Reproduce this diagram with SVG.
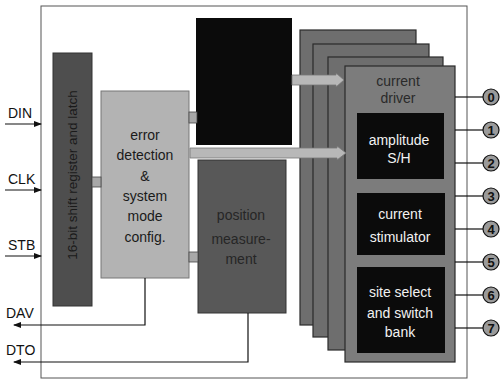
<svg xmlns="http://www.w3.org/2000/svg" width="503" height="381" viewBox="0 0 503 381">
<style>
text{font-family:"Liberation Sans",Arial,sans-serif;}
.lbl{font-size:14px;fill:#111;}
.dk{font-size:14px;fill:#1a1a1a;text-anchor:middle;}
.wt{font-size:14px;fill:#f2f2f2;text-anchor:middle;}
.card{fill:#6e6e6e;stroke:#2a2a2a;stroke-width:1.2;}
.blk{fill:#0b0b0b;}
.wire{stroke:#111;stroke-width:1.2;fill:none;}
.stub{fill:#a8a8a8;stroke:#444;stroke-width:0.8;}
.bus{fill:#b8b8b8;stroke:#777;stroke-width:0.8;}
.pin{fill:#9a9a9a;stroke:#111;stroke-width:1.2;}
.num{font-size:13px;font-weight:bold;fill:#111;text-anchor:middle;}
</style>
<defs>
<marker id="ah" markerWidth="8" markerHeight="6" refX="7" refY="3" orient="auto" markerUnits="userSpaceOnUse">
<path d="M0,0 L8,3 L0,6 Z" fill="#111"/>
</marker>
</defs>
<rect x="41" y="6" width="426" height="372" fill="none" stroke="#555" stroke-width="1"/>

<g id="labels">
<text class="lbl" x="8" y="118">DIN</text>
<text class="lbl" x="8" y="184">CLK</text>
<text class="lbl" x="8" y="250">STB</text>
<text class="lbl" x="6" y="318">DAV</text>
<text class="lbl" x="6" y="355">DTO</text>
</g>

<g id="shift-register">
<rect x="53" y="53" width="39" height="253" fill="#4e4e4e" stroke="#333" stroke-width="1"/>
<text class="dk" transform="translate(77,175) rotate(-90)" style="font-size:13.5px;fill:#1a1a1a">16-bit shift register and latch</text>
</g>

<g id="error-detection">
<rect x="101" y="91" width="88" height="187" fill="#b3b3b3" stroke="#777" stroke-width="1"/>
<text class="dk" x="145" y="140">error</text>
<text class="dk" x="145" y="160">detection</text>
<text class="dk" x="145" y="181">&amp;</text>
<text class="dk" x="145" y="201">system</text>
<text class="dk" x="145" y="221">mode</text>
<text class="dk" x="145" y="242">config.</text>
</g>

<g id="top-black">
<rect class="blk" x="196" y="18" width="96" height="127"/>
</g>

<g id="position-measurement">
<rect x="198" y="160" width="88" height="153" fill="#585858" stroke="#333" stroke-width="1"/>
<text class="dk" x="241" y="220" style="fill:#262626">position</text>
<text class="dk" x="241" y="244" style="fill:#262626">measure-</text>
<text class="dk" x="241" y="264" style="fill:#262626">ment</text>
</g>

<g id="channel-stack">
<rect class="card" x="300" y="30" width="116" height="295"/>
<rect class="card" x="313" y="44" width="116" height="293"/>
<rect class="card" x="328" y="57" width="115" height="293"/>
<rect class="card" x="345" y="66" width="110" height="296" style="fill:#7c7c7c"/>
<text class="dk" x="398" y="86" style="fill:#2a2a2a">current</text>
<text class="dk" x="398" y="103" style="fill:#2a2a2a">driver</text>
</g>

<g id="amplitude-sh">
<rect class="blk" x="357" y="113" width="87" height="66"/>
<text class="wt" x="399" y="145">amplitude</text>
<text class="wt" x="399" y="163">S/H</text>
</g>

<g id="current-stimulator">
<rect class="blk" x="357" y="193" width="88" height="62"/>
<text class="wt" x="400" y="219">current</text>
<text class="wt" x="400" y="242">stimulator</text>
</g>

<g id="site-select">
<rect class="blk" x="357" y="267" width="88" height="86"/>
<text class="wt" x="400" y="297">site select</text>
<text class="wt" x="400" y="318">and switch</text>
<text class="wt" x="400" y="337">bank</text>
</g>

<g id="connectors">
<line class="wire" x1="5" y1="124" x2="41" y2="124" marker-end="url(#ah)"/>
<line class="wire" x1="5" y1="190" x2="41" y2="190" marker-end="url(#ah)"/>
<line class="wire" x1="5" y1="256" x2="41" y2="256" marker-end="url(#ah)"/>
<polyline class="wire" points="145,278 145,325 14,325" marker-end="url(#ah)"/>
<polyline class="wire" points="248,313 248,362 14,362" marker-end="url(#ah)"/>
<rect class="stub" x="92" y="177" width="9" height="10"/>
<rect class="stub" x="189" y="112" width="8" height="11"/>
<rect class="stub" x="189" y="252" width="9" height="10"/>
<path class="bus" d="M292,75 L336,75 L336,73 L344,80 L336,87 L336,85 L292,85 Z"/>
<path class="bus" d="M190,148 L337,148 L337,146 L346,153 L337,160 L337,158 L190,158 Z"/>
<line class="wire" x1="455" y1="97" x2="483" y2="97"/>
<line class="wire" x1="455" y1="130" x2="483" y2="130"/>
<line class="wire" x1="455" y1="163" x2="483" y2="163"/>
<line class="wire" x1="455" y1="196" x2="483" y2="196"/>
<line class="wire" x1="455" y1="229" x2="483" y2="229"/>
<line class="wire" x1="455" y1="262" x2="483" y2="262"/>
<line class="wire" x1="455" y1="295" x2="483" y2="295"/>
<line class="wire" x1="455" y1="328" x2="483" y2="328"/>
</g>

<g id="pins">
<circle class="pin" cx="491" cy="97" r="8"/><text class="num" x="491" y="102">0</text>
<circle class="pin" cx="491" cy="130" r="8"/><text class="num" x="491" y="135">1</text>
<circle class="pin" cx="491" cy="163" r="8"/><text class="num" x="491" y="168">2</text>
<circle class="pin" cx="491" cy="196" r="8"/><text class="num" x="491" y="201">3</text>
<circle class="pin" cx="491" cy="229" r="8"/><text class="num" x="491" y="234">4</text>
<circle class="pin" cx="491" cy="262" r="8"/><text class="num" x="491" y="267">5</text>
<circle class="pin" cx="491" cy="295" r="8"/><text class="num" x="491" y="300">6</text>
<circle class="pin" cx="491" cy="328" r="8"/><text class="num" x="491" y="333">7</text>
</g>
</svg>
